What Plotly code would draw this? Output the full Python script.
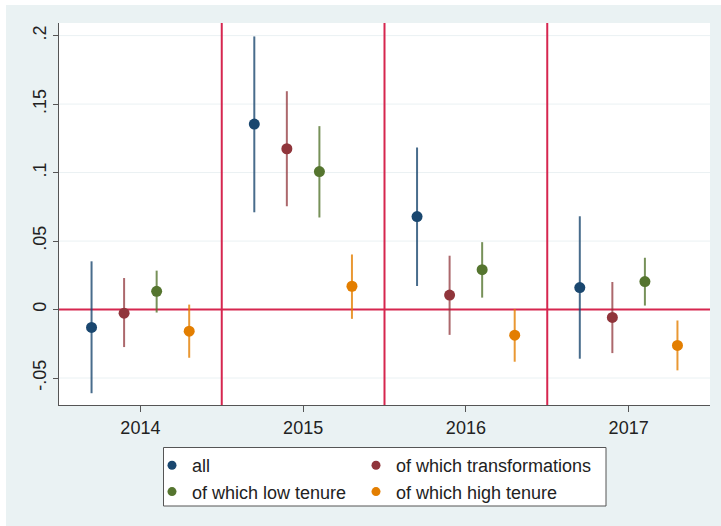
import plotly.graph_objects as go

# ---- data ----
years = [2014, 2015, 2016, 2017]
series_names = ["all", "of which transformations", "of which low tenure", "of which high tenure"]

all_est = [-0.0131, 0.1354, 0.0679, 0.0160]
all_lo = [-0.0611, 0.0710, 0.0172, -0.0359]
all_hi = [0.0352, 0.1994, 0.1183, 0.0681]

trans_est = [-0.0027, 0.1174, 0.0106, -0.0058]
trans_lo = [-0.0274, 0.0754, -0.0185, -0.0318]
trans_hi = [0.0230, 0.1594, 0.0393, 0.0201]

low_est = [0.0133, 0.1007, 0.0291, 0.0204]
low_lo = [-0.0022, 0.0672, 0.0087, 0.0029]
low_hi = [0.0284, 0.1339, 0.0492, 0.0378]

high_est = [-0.0158, 0.0170, -0.0187, -0.0262]
high_lo = [-0.0352, -0.0068, -0.0381, -0.0444]
high_hi = [0.0036, 0.0402, 0.0004, -0.0080]

y_tickvals = [-0.05, 0, 0.05, 0.1, 0.15, 0.2]
y_ticktext = ["-.05", "0", ".05", ".1", ".15", ".2"]

# ---- style ----
colors = ["#1A476F", "#90353B", "#55752F", "#E37E00"]
ci_colors = ["rgba(26,71,111,0.8)", "rgba(144,53,59,0.75)", "rgba(85,117,47,0.8)", "rgba(227,126,0,0.8)"]
offsets = [-0.3, -0.1, 0.1, 0.3]
FONT = "Liberation Sans, Arial, sans-serif"
BG = "#EAF2F3"
RED = "#D6264F"
GRID = "#EAF1F3"
TICKFONT = 18
LEGFONT = 18

est = [all_est, trans_est, low_est, high_est]
lo = [all_lo, trans_lo, low_lo, high_lo]
hi = [all_hi, trans_hi, low_hi, high_hi]

fig = go.Figure()
for i, name in enumerate(series_names):
    xs = [y + offsets[i] for y in years]
    fig.add_trace(go.Scatter(
        x=xs, y=est[i], mode="markers", name=name, showlegend=False,
        marker=dict(color=colors[i], size=11),
        error_y=dict(type="data", symmetric=False,
                     array=[h - e for h, e in zip(hi[i], est[i])],
                     arrayminus=[e - l for l, e in zip(lo[i], est[i])],
                     color=ci_colors[i], thickness=2, width=0),
    ))

# legend entries (two columns)
legend_of = ["legend", "legend2", "legend", "legend2"]
for i, name in enumerate(series_names):
    fig.add_trace(go.Scatter(
        x=[None], y=[None], mode="markers", name=name, showlegend=True,
        legend=legend_of[i], legendgroup=name,
        marker=dict(color=colors[i], size=9),
    ))

shapes = []
# horizontal gridlines (except at zero, where the red line sits)
for v in y_tickvals:
    if v != 0:
        shapes.append(dict(type="line", xref="paper", x0=0, x1=1, yref="y", y0=v, y1=v,
                           line=dict(color=GRID, width=1), layer="below"))
# reference lines
shapes.append(dict(type="line", xref="paper", x0=0, x1=1, yref="y", y0=0, y1=0,
                   line=dict(color=RED, width=2), layer="below"))
for a, b in zip(years[:-1], years[1:]):
    m = (a + b) / 2
    shapes.append(dict(type="line", xref="x", x0=m, x1=m, yref="paper", y0=0, y1=1,
                       line=dict(color=RED, width=2), layer="below"))

# page geometry (px -> paper)
W, H = 721, 526
L, R, T, B = 59, 11, 23, 121
pw, ph = W - L - R, H - T - B
def px(xp):
    return (xp - L) / pw
def py(yp):
    return (H - B - yp) / ph

# white strips at top and left edges of the page
shapes.append(dict(type="rect", xref="paper", yref="paper", x0=px(0), x1=px(6), y0=py(H), y1=py(0),
                   fillcolor="white", line=dict(width=0), layer="below"))
shapes.append(dict(type="rect", xref="paper", yref="paper", x0=px(0), x1=px(W), y0=py(5), y1=py(0),
                   fillcolor="white", line=dict(width=0), layer="below"))
# legend box
shapes.append(dict(type="rect", xref="paper", yref="paper", x0=px(163.5), x1=px(606), y0=py(506), y1=py(447.5),
                   fillcolor="white", line=dict(color="#555555", width=1), layer="above"))

fig.update_layout(
    width=W, height=H, autosize=False,
    margin=dict(l=L, r=R, t=T, b=B),
    paper_bgcolor=BG, plot_bgcolor="white",
    font=dict(family=FONT, size=TICKFONT, color="#222222"),
    shapes=shapes,
    xaxis=dict(range=[2013.5, 2017.5], tickvals=years, ticktext=[str(y) for y in years],
               showgrid=False, zeroline=False, showline=True, linecolor="#555555", linewidth=1,
               ticks="outside", ticklen=6, tickcolor="#555555", tickfont=dict(size=TICKFONT)),
    yaxis=dict(range=[-0.0697, 0.2092], tickvals=y_tickvals, ticktext=y_ticktext, tickangle=-90,
               showgrid=False, zeroline=False,
               showline=True, linecolor="#555555", linewidth=1,
               ticks="outside", ticklen=5, tickcolor="#555555", tickfont=dict(size=TICKFONT)),
    legend=dict(x=px(152), y=py(447), xanchor="left", yanchor="top", orientation="v",
                bgcolor="rgba(0,0,0,0)", borderwidth=0, font=dict(size=LEGFONT), tracegroupgap=0),
    legend2=dict(x=px(356), y=py(447), xanchor="left", yanchor="top", orientation="v",
                 bgcolor="rgba(0,0,0,0)", borderwidth=0, font=dict(size=LEGFONT), tracegroupgap=0),
)

fig.write_html(
    "out.html",
    config={"displayModeBar": False},
    post_script=("document.body.style.margin='0';document.body.style.overflow='hidden';"
                 "document.body.style.background='" + BG + "';"),
)
